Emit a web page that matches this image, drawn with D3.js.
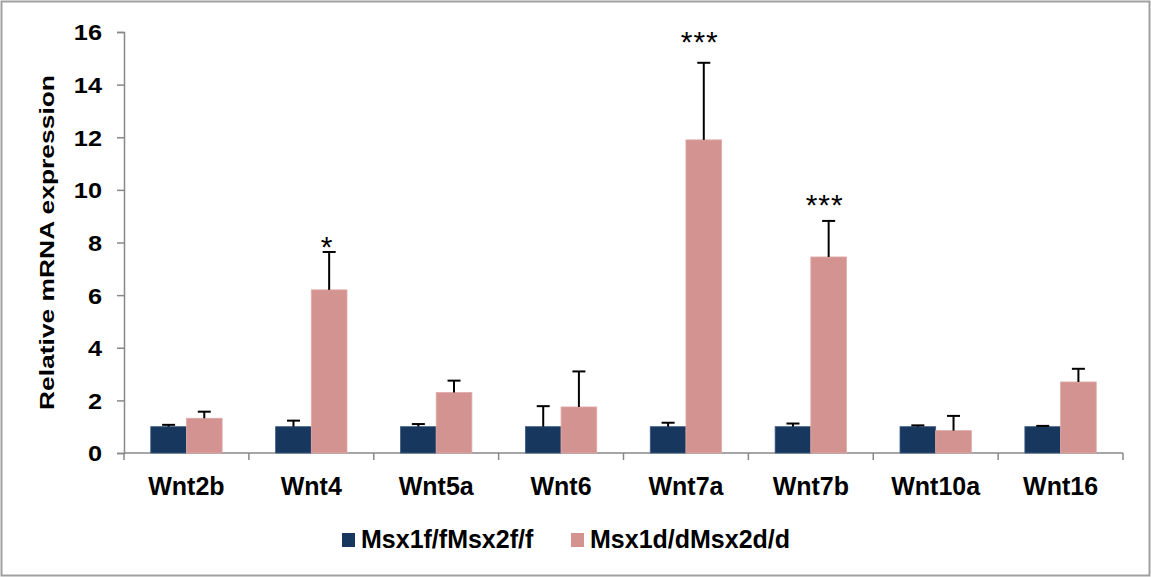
<!DOCTYPE html>
<html>
<head>
<meta charset="utf-8">
<script src="https://cdn.jsdelivr.net/npm/d3@7"></script>
<style>
  body { margin: 0; background: white; }
  text { font-family: "Liberation Sans", Arial, sans-serif; }
</style>
</head>
<body>
<div id="chart"></div>
<script>
// 데이터
const genes = ["Wnt2b", "Wnt4", "Wnt5a", "Wnt6", "Wnt7a", "Wnt7b", "Wnt10a", "Wnt16"];
const seriesNames = ["Msx1f/fMsx2f/f", "Msx1d/dMsx2d/d"];
const controlVals = [1.0, 1.0, 1.0, 1.0, 1.0, 1.0, 1.0, 1.0];
const controlErr = [0.07, 0.23, 0.1, 0.78, 0.15, 0.12, 0.05, 0.03];
const mutantVals = [1.32, 6.2, 2.3, 1.75, 11.9, 7.45, 0.85, 2.7];
const mutantErr = [0.25, 1.44, 0.45, 1.35, 2.93, 1.37, 0.56, 0.5];
const stars = ["", "*", "", "", "***", "***", "", ""];
const starLevels = [0, 7.95, 0, 0, 15.75, 9.55, 0, 0];
const yTicks = [0, 2, 4, 6, 8, 10, 12, 14, 16];
const colors = ["#17375E", "#D39391"];

const W = 1151, H = 577;
const svg = d3.select("#chart").append("svg").attr("width", W).attr("height", H);

// 바깥 테두리
svg.append("rect").attr("x", 1.5).attr("y", 1.5).attr("width", W - 3).attr("height", H - 3)
  .attr("fill", "white").attr("stroke", "#a0a0a0").attr("stroke-width", 2);

const plotLeft = 124, plotRight = 1123, plotTop = 32, plotBottom = 453;

const x = d3.scaleBand().domain(genes).range([plotLeft, plotRight]).paddingInner(0).paddingOuter(0);
const y = d3.scaleLinear().domain([0, 16]).range([plotBottom, plotTop]);
const barW = x.bandwidth() / 3.5;

// 축
const yAxis = svg.append("g").attr("transform", `translate(${plotLeft},0)`)
  .call(d3.axisLeft(y).tickValues(yTicks).tickSize(7).tickPadding(10));
yAxis.select(".domain").attr("stroke", "#888").attr("stroke-width", 1.5);
yAxis.selectAll(".tick line").attr("stroke", "#888").attr("stroke-width", 1.5);
// 눈금 글자는 가로로 약간 늘려서 원본과 맞춤
yAxis.selectAll(".tick text")
  .attr("x", 0).attr("dy", "0.36em")
  .attr("transform", "translate(-22,0) scale(1.15,1)")
  .attr("font-size", "22px").attr("font-weight", "bold")
  .attr("fill", "#000").attr("font-family", "Liberation Sans, Arial, sans-serif");

const xAxis = svg.append("g").attr("transform", `translate(0,${plotBottom})`);
xAxis.append("line").attr("x1", plotLeft).attr("x2", plotRight).attr("y1", 0).attr("y2", 0)
  .attr("stroke", "#888").attr("stroke-width", 1.5);
xAxis.selectAll(".xt").data(genes.concat(["end"])).enter().append("line")
  .attr("x1", (d, i) => i < genes.length ? x(d) : plotRight)
  .attr("x2", (d, i) => i < genes.length ? x(d) : plotRight)
  .attr("y1", 0).attr("y2", 7).attr("stroke", "#888").attr("stroke-width", 1.5);
xAxis.selectAll(".xl").data(genes).enter().append("text")
  .attr("x", d => x(d) + x.bandwidth() / 2).attr("y", 42)
  .attr("text-anchor", "middle").attr("font-size", "25px").attr("font-weight", "bold")
  .text(d => d);

// Y축 제목
svg.append("text")
  .attr("transform", `translate(54,242.5) rotate(-90)`)
  .attr("text-anchor", "middle").attr("font-size", "21px").attr("font-weight", "bold")
  .attr("textLength", 335).attr("lengthAdjust", "spacingAndGlyphs")
  .text("Relative mRNA expression");

// 막대 + 오차 막대
const series = [
  { vals: controlVals, err: controlErr, off: -1 },
  { vals: mutantVals, err: mutantErr, off: 0 }
];
series.forEach((s, si) => {
  const g = svg.append("g");
  genes.forEach((gname, i) => {
    const cx = x(gname) + x.bandwidth() / 2;
    const bx = cx + s.off * barW;
    g.append("rect")
      .attr("x", bx).attr("y", y(s.vals[i]))
      .attr("width", barW).attr("height", y(0) - y(s.vals[i]))
      .attr("fill", colors[si])
      .attr("stroke", si === 0 ? "#3d5a80" : "#e0aaa8").attr("stroke-width", 0.8);
    const ex = bx + barW / 2;
    g.append("line").attr("x1", ex).attr("x2", ex)
      .attr("y1", y(s.vals[i])).attr("y2", y(s.vals[i] + s.err[i]))
      .attr("stroke", "#000").attr("stroke-width", 2);
    g.append("line").attr("x1", ex - 6.5).attr("x2", ex + 6.5)
      .attr("y1", y(s.vals[i] + s.err[i])).attr("y2", y(s.vals[i] + s.err[i]))
      .attr("stroke", "#000").attr("stroke-width", 2);
  });
});

// 유의성 표시
genes.forEach((gname, i) => {
  if (!stars[i]) return;
  const cx = x(gname) + x.bandwidth() / 2 + barW / 2 - (stars[i].length > 1 ? 4 : 2);
  svg.append("text")
    .attr("x", cx).attr("y", y(starLevels[i]) + 13)
    .attr("text-anchor", "middle").attr("font-size", "30px")
    .attr("font-family", "DejaVu Sans, sans-serif").attr("letter-spacing", "1px")
    .text(stars[i]);
});

// 범례
const legendX = [342, 571];
seriesNames.forEach((name, i) => {
  svg.append("rect").attr("x", legendX[i]).attr("y", 533)
    .attr("width", 13).attr("height", 14).attr("fill", colors[i]);
  svg.append("text").attr("x", legendX[i] + 19).attr("y", 548)
    .attr("font-size", "25px").attr("font-weight", "bold").text(name);
});
</script>
</body>
</html>
